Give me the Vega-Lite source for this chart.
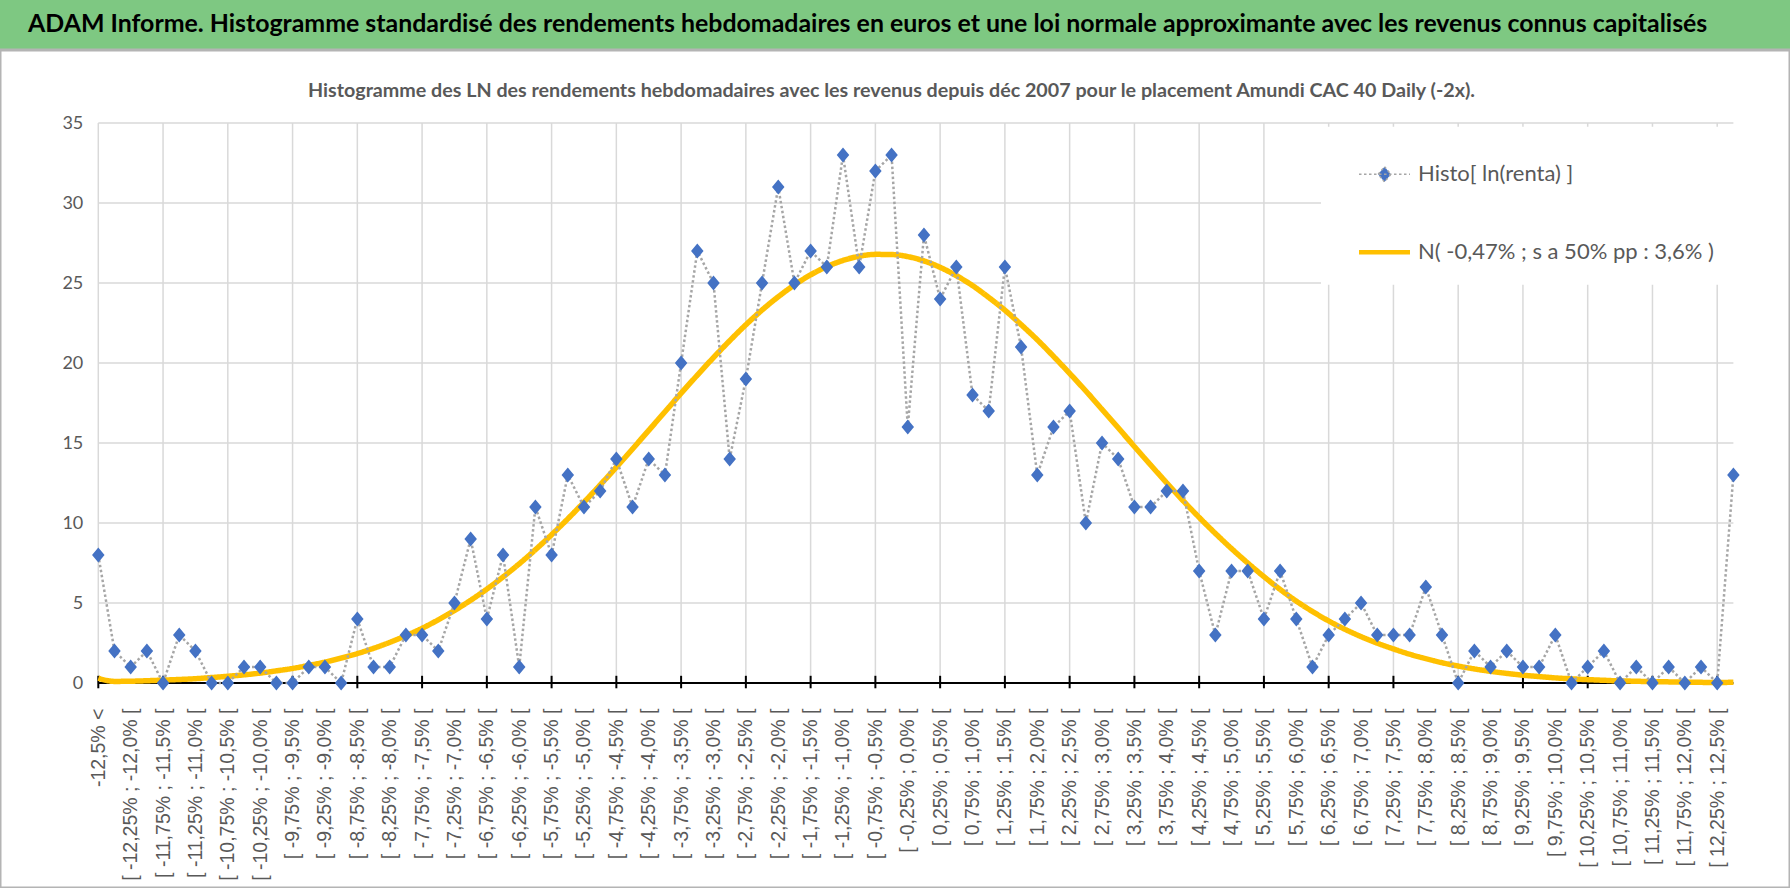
{
  "$schema": "https://vega.github.io/schema/vega-lite/v6.json",
  "width": 1790,
  "height": 838,
  "autosize": {"type": "none"},
  "padding": {"left": 0, "top": 50, "right": 0, "bottom": 0},
  "background": "#7ec882",
  "title": {
    "text": "ADAM Informe. Histogramme standardisé des rendements hebdomadaires en euros et une loi normale approximante avec les revenus connus capitalisés",
    "anchor": "start",
    "frame": "group",
    "dx": 28,
    "dy": 22,
    "offset": 15,
    "baseline": "alphabetic",
    "font": "Lato",
    "fontSize": 24.9,
    "fontWeight": "bold",
    "color": "#000000"
  },
  "config": {
    "view": {"fill": "white", "stroke": "#b4b4b4", "strokeWidth": 3}
  },
  "data": {
    "values": [
      {"k": 1, "label": "-12,5% <", "count": 8, "normal": 0.3},
      {"k": 2, "label": "[ -12,5% ; -12,25% [", "count": 2, "normal": 0.1},
      {"k": 3, "label": "[ -12,25% ; -12,0% [", "count": 1, "normal": 0.11},
      {"k": 4, "label": "[ -12,0% ; -11,75% [", "count": 2, "normal": 0.14},
      {"k": 5, "label": "[ -11,75% ; -11,5% [", "count": 0, "normal": 0.18},
      {"k": 6, "label": "[ -11,5% ; -11,25% [", "count": 3, "normal": 0.22},
      {"k": 7, "label": "[ -11,25% ; -11,0% [", "count": 2, "normal": 0.27},
      {"k": 8, "label": "[ -11,0% ; -10,75% [", "count": 0, "normal": 0.34},
      {"k": 9, "label": "[ -10,75% ; -10,5% [", "count": 0, "normal": 0.42},
      {"k": 10, "label": "[ -10,5% ; -10,25% [", "count": 1, "normal": 0.51},
      {"k": 11, "label": "[ -10,25% ; -10,0% [", "count": 1, "normal": 0.62},
      {"k": 12, "label": "[ -10,0% ; -9,75% [", "count": 0, "normal": 0.76},
      {"k": 13, "label": "[ -9,75% ; -9,5% [", "count": 0, "normal": 0.91},
      {"k": 14, "label": "[ -9,5% ; -9,25% [", "count": 1, "normal": 1.1},
      {"k": 15, "label": "[ -9,25% ; -9,0% [", "count": 1, "normal": 1.31},
      {"k": 16, "label": "[ -9,0% ; -8,75% [", "count": 0, "normal": 1.56},
      {"k": 17, "label": "[ -8,75% ; -8,5% [", "count": 4, "normal": 1.84},
      {"k": 18, "label": "[ -8,5% ; -8,25% [", "count": 1, "normal": 2.17},
      {"k": 19, "label": "[ -8,25% ; -8,0% [", "count": 1, "normal": 2.54},
      {"k": 20, "label": "[ -8,0% ; -7,75% [", "count": 3, "normal": 2.96},
      {"k": 21, "label": "[ -7,75% ; -7,5% [", "count": 3, "normal": 3.42},
      {"k": 22, "label": "[ -7,5% ; -7,25% [", "count": 2, "normal": 3.95},
      {"k": 23, "label": "[ -7,25% ; -7,0% [", "count": 5, "normal": 4.53},
      {"k": 24, "label": "[ -7,0% ; -6,75% [", "count": 9, "normal": 5.17},
      {"k": 25, "label": "[ -6,75% ; -6,5% [", "count": 4, "normal": 5.87},
      {"k": 26, "label": "[ -6,5% ; -6,25% [", "count": 8, "normal": 6.63},
      {"k": 27, "label": "[ -6,25% ; -6,0% [", "count": 1, "normal": 7.45},
      {"k": 28, "label": "[ -6,0% ; -5,75% [", "count": 11, "normal": 8.33},
      {"k": 29, "label": "[ -5,75% ; -5,5% [", "count": 8, "normal": 9.27},
      {"k": 30, "label": "[ -5,5% ; -5,25% [", "count": 13, "normal": 10.26},
      {"k": 31, "label": "[ -5,25% ; -5,0% [", "count": 11, "normal": 11.3},
      {"k": 32, "label": "[ -5,0% ; -4,75% [", "count": 12, "normal": 12.38},
      {"k": 33, "label": "[ -4,75% ; -4,5% [", "count": 14, "normal": 13.49},
      {"k": 34, "label": "[ -4,5% ; -4,25% [", "count": 11, "normal": 14.63},
      {"k": 35, "label": "[ -4,25% ; -4,0% [", "count": 14, "normal": 15.79},
      {"k": 36, "label": "[ -4,0% ; -3,75% [", "count": 13, "normal": 16.95},
      {"k": 37, "label": "[ -3,75% ; -3,5% [", "count": 20, "normal": 18.11},
      {"k": 38, "label": "[ -3,5% ; -3,25% [", "count": 27, "normal": 19.24},
      {"k": 39, "label": "[ -3,25% ; -3,0% [", "count": 25, "normal": 20.34},
      {"k": 40, "label": "[ -3,0% ; -2,75% [", "count": 14, "normal": 21.39},
      {"k": 41, "label": "[ -2,75% ; -2,5% [", "count": 19, "normal": 22.39},
      {"k": 42, "label": "[ -2,5% ; -2,25% [", "count": 25, "normal": 23.31},
      {"k": 43, "label": "[ -2,25% ; -2,0% [", "count": 31, "normal": 24.14},
      {"k": 44, "label": "[ -2,0% ; -1,75% [", "count": 25, "normal": 24.88},
      {"k": 45, "label": "[ -1,75% ; -1,5% [", "count": 27, "normal": 25.51},
      {"k": 46, "label": "[ -1,5% ; -1,25% [", "count": 26, "normal": 26.02},
      {"k": 47, "label": "[ -1,25% ; -1,0% [", "count": 33, "normal": 26.41},
      {"k": 48, "label": "[ -1,0% ; -0,75% [", "count": 26, "normal": 26.67},
      {"k": 49, "label": "[ -0,75% ; -0,5% [", "count": 32, "normal": 26.79},
      {"k": 50, "label": "[ -0,5% ; -0,25% [", "count": 33, "normal": 26.78},
      {"k": 51, "label": "[ -0,25% ; 0,0% [", "count": 16, "normal": 26.65},
      {"k": 52, "label": "[ 0,0% ; 0,25% [", "count": 28, "normal": 26.38},
      {"k": 53, "label": "[ 0,25% ; 0,5% [", "count": 24, "normal": 25.98},
      {"k": 54, "label": "[ 0,5% ; 0,75% [", "count": 26, "normal": 25.46},
      {"k": 55, "label": "[ 0,75% ; 1,0% [", "count": 18, "normal": 24.84},
      {"k": 56, "label": "[ 1,0% ; 1,25% [", "count": 17, "normal": 24.1},
      {"k": 57, "label": "[ 1,25% ; 1,5% [", "count": 26, "normal": 23.3},
      {"k": 58, "label": "[ 1,5% ; 1,75% [", "count": 21, "normal": 22.4},
      {"k": 59, "label": "[ 1,75% ; 2,0% [", "count": 13, "normal": 21.45},
      {"k": 60, "label": "[ 2,0% ; 2,25% [", "count": 16, "normal": 20.42},
      {"k": 61, "label": "[ 2,25% ; 2,5% [", "count": 17, "normal": 19.35},
      {"k": 62, "label": "[ 2,5% ; 2,75% [", "count": 10, "normal": 18.25},
      {"k": 63, "label": "[ 2,75% ; 3,0% [", "count": 15, "normal": 17.1},
      {"k": 64, "label": "[ 3,0% ; 3,25% [", "count": 14, "normal": 15.95},
      {"k": 65, "label": "[ 3,25% ; 3,5% [", "count": 11, "normal": 14.78},
      {"k": 66, "label": "[ 3,5% ; 3,75% [", "count": 11, "normal": 13.63},
      {"k": 67, "label": "[ 3,75% ; 4,0% [", "count": 12, "normal": 12.5},
      {"k": 68, "label": "[ 4,0% ; 4,25% [", "count": 12, "normal": 11.4},
      {"k": 69, "label": "[ 4,25% ; 4,5% [", "count": 7, "normal": 10.35},
      {"k": 70, "label": "[ 4,5% ; 4,75% [", "count": 3, "normal": 9.35},
      {"k": 71, "label": "[ 4,75% ; 5,0% [", "count": 7, "normal": 8.4},
      {"k": 72, "label": "[ 5,0% ; 5,25% [", "count": 7, "normal": 7.5},
      {"k": 73, "label": "[ 5,25% ; 5,5% [", "count": 4, "normal": 6.65},
      {"k": 74, "label": "[ 5,5% ; 5,75% [", "count": 7, "normal": 5.85},
      {"k": 75, "label": "[ 5,75% ; 6,0% [", "count": 4, "normal": 5.12},
      {"k": 76, "label": "[ 6,0% ; 6,25% [", "count": 1, "normal": 4.47},
      {"k": 77, "label": "[ 6,25% ; 6,5% [", "count": 3, "normal": 3.88},
      {"k": 78, "label": "[ 6,5% ; 6,75% [", "count": 4, "normal": 3.36},
      {"k": 79, "label": "[ 6,75% ; 7,0% [", "count": 5, "normal": 2.9},
      {"k": 80, "label": "[ 7,0% ; 7,25% [", "count": 3, "normal": 2.49},
      {"k": 81, "label": "[ 7,25% ; 7,5% [", "count": 3, "normal": 2.13},
      {"k": 82, "label": "[ 7,5% ; 7,75% [", "count": 3, "normal": 1.8},
      {"k": 83, "label": "[ 7,75% ; 8,0% [", "count": 6, "normal": 1.52},
      {"k": 84, "label": "[ 8,0% ; 8,25% [", "count": 3, "normal": 1.27},
      {"k": 85, "label": "[ 8,25% ; 8,5% [", "count": 0, "normal": 1.06},
      {"k": 86, "label": "[ 8,5% ; 8,75% [", "count": 2, "normal": 0.88},
      {"k": 87, "label": "[ 8,75% ; 9,0% [", "count": 1, "normal": 0.73},
      {"k": 88, "label": "[ 9,0% ; 9,25% [", "count": 2, "normal": 0.6},
      {"k": 89, "label": "[ 9,25% ; 9,5% [", "count": 1, "normal": 0.49},
      {"k": 90, "label": "[ 9,5% ; 9,75% [", "count": 1, "normal": 0.4},
      {"k": 91, "label": "[ 9,75% ; 10,0% [", "count": 3, "normal": 0.32},
      {"k": 92, "label": "[ 10,0% ; 10,25% [", "count": 0, "normal": 0.26},
      {"k": 93, "label": "[ 10,25% ; 10,5% [", "count": 1, "normal": 0.21},
      {"k": 94, "label": "[ 10,5% ; 10,75% [", "count": 2, "normal": 0.17},
      {"k": 95, "label": "[ 10,75% ; 11,0% [", "count": 0, "normal": 0.13},
      {"k": 96, "label": "[ 11,0% ; 11,25% [", "count": 1, "normal": 0.11},
      {"k": 97, "label": "[ 11,25% ; 11,5% [", "count": 0, "normal": 0.08},
      {"k": 98, "label": "[ 11,5% ; 11,75% [", "count": 1, "normal": 0.07},
      {"k": 99, "label": "[ 11,75% ; 12,0% [", "count": 0, "normal": 0.05},
      {"k": 100, "label": "[ 12,0% ; 12,25% [", "count": 1, "normal": 0.04},
      {"k": 101, "label": "[ 12,25% ; 12,5% [", "count": 0, "normal": 0.03},
      {"k": 102, "label": "> 12,5%", "count": 13, "normal": 0.05}
    ]
  },
  "layer": [
    {
      "data": {"values": [{"v": 5}, {"v": 10}, {"v": 15}, {"v": 20}, {"v": 25}, {"v": 30}, {"v": 35}]},
      "mark": {"type": "rule", "color": "#d9d9d9", "strokeWidth": 1.5},
      "encoding": {
        "x": {"datum": "-12,5% <", "type": "nominal"},
        "x2": {"datum": "> 12,5%"},
        "y": {"field": "v", "type": "quantitative"}
      }
    },
    {
      "transform": [{"filter": "datum.k % 4 == 1"}],
      "mark": {"type": "rule", "color": "#d9d9d9", "strokeWidth": 1.5},
      "encoding": {
        "x": {"field": "label", "type": "nominal"},
        "y": {"datum": 0, "type": "quantitative"},
        "y2": {"datum": 35}
      }
    },
    {
      "data": {"values": [{"v": 0}]},
      "mark": {"type": "rule", "color": "#000000", "strokeWidth": 2},
      "encoding": {
        "x": {"datum": "-12,5% <", "type": "nominal"},
        "x2": {"datum": "> 12,5%"},
        "y": {"field": "v", "type": "quantitative"}
      }
    },
    {
      "transform": [{"filter": "datum.k % 4 == 1"}],
      "mark": {"type": "rule", "color": "#000000", "strokeWidth": 2},
      "encoding": {
        "x": {"field": "label", "type": "nominal"},
        "y": {"datum": 0.45, "type": "quantitative"},
        "y2": {"datum": -0.33}
      }
    },
    {
      "mark": {"type": "line", "interpolate": "monotone"},
      "encoding": {
        "x": {
          "field": "label",
          "type": "nominal",
          "scale": {
            "type": "point",
            "range": [98.3, 1733.4],
            "padding": 0,
            "domain": [
              "-12,5% <", "[ -12,5% ; -12,25% [", "[ -12,25% ; -12,0% [", "[ -12,0% ; -11,75% [", "[ -11,75% ; -11,5% [", "[ -11,5% ; -11,25% [",
              "[ -11,25% ; -11,0% [", "[ -11,0% ; -10,75% [", "[ -10,75% ; -10,5% [", "[ -10,5% ; -10,25% [", "[ -10,25% ; -10,0% [", "[ -10,0% ; -9,75% [",
              "[ -9,75% ; -9,5% [", "[ -9,5% ; -9,25% [", "[ -9,25% ; -9,0% [", "[ -9,0% ; -8,75% [", "[ -8,75% ; -8,5% [", "[ -8,5% ; -8,25% [",
              "[ -8,25% ; -8,0% [", "[ -8,0% ; -7,75% [", "[ -7,75% ; -7,5% [", "[ -7,5% ; -7,25% [", "[ -7,25% ; -7,0% [", "[ -7,0% ; -6,75% [",
              "[ -6,75% ; -6,5% [", "[ -6,5% ; -6,25% [", "[ -6,25% ; -6,0% [", "[ -6,0% ; -5,75% [", "[ -5,75% ; -5,5% [", "[ -5,5% ; -5,25% [",
              "[ -5,25% ; -5,0% [", "[ -5,0% ; -4,75% [", "[ -4,75% ; -4,5% [", "[ -4,5% ; -4,25% [", "[ -4,25% ; -4,0% [", "[ -4,0% ; -3,75% [",
              "[ -3,75% ; -3,5% [", "[ -3,5% ; -3,25% [", "[ -3,25% ; -3,0% [", "[ -3,0% ; -2,75% [", "[ -2,75% ; -2,5% [", "[ -2,5% ; -2,25% [",
              "[ -2,25% ; -2,0% [", "[ -2,0% ; -1,75% [", "[ -1,75% ; -1,5% [", "[ -1,5% ; -1,25% [", "[ -1,25% ; -1,0% [", "[ -1,0% ; -0,75% [",
              "[ -0,75% ; -0,5% [", "[ -0,5% ; -0,25% [", "[ -0,25% ; 0,0% [", "[ 0,0% ; 0,25% [", "[ 0,25% ; 0,5% [", "[ 0,5% ; 0,75% [",
              "[ 0,75% ; 1,0% [", "[ 1,0% ; 1,25% [", "[ 1,25% ; 1,5% [", "[ 1,5% ; 1,75% [", "[ 1,75% ; 2,0% [", "[ 2,0% ; 2,25% [",
              "[ 2,25% ; 2,5% [", "[ 2,5% ; 2,75% [", "[ 2,75% ; 3,0% [", "[ 3,0% ; 3,25% [", "[ 3,25% ; 3,5% [", "[ 3,5% ; 3,75% [",
              "[ 3,75% ; 4,0% [", "[ 4,0% ; 4,25% [", "[ 4,25% ; 4,5% [", "[ 4,5% ; 4,75% [", "[ 4,75% ; 5,0% [", "[ 5,0% ; 5,25% [",
              "[ 5,25% ; 5,5% [", "[ 5,5% ; 5,75% [", "[ 5,75% ; 6,0% [", "[ 6,0% ; 6,25% [", "[ 6,25% ; 6,5% [", "[ 6,5% ; 6,75% [",
              "[ 6,75% ; 7,0% [", "[ 7,0% ; 7,25% [", "[ 7,25% ; 7,5% [", "[ 7,5% ; 7,75% [", "[ 7,75% ; 8,0% [", "[ 8,0% ; 8,25% [",
              "[ 8,25% ; 8,5% [", "[ 8,5% ; 8,75% [", "[ 8,75% ; 9,0% [", "[ 9,0% ; 9,25% [", "[ 9,25% ; 9,5% [", "[ 9,5% ; 9,75% [",
              "[ 9,75% ; 10,0% [", "[ 10,0% ; 10,25% [", "[ 10,25% ; 10,5% [", "[ 10,5% ; 10,75% [", "[ 10,75% ; 11,0% [", "[ 11,0% ; 11,25% [",
              "[ 11,25% ; 11,5% [", "[ 11,5% ; 11,75% [", "[ 11,75% ; 12,0% [", "[ 12,0% ; 12,25% [", "[ 12,25% ; 12,5% [", "> 12,5%"
            ]
          },
          "axis": {
            "orient": "bottom",
            "offset": -205,
            "values": [
              "-12,5% <", "[ -12,25% ; -12,0% [", "[ -11,75% ; -11,5% [", "[ -11,25% ; -11,0% [", "[ -10,75% ; -10,5% [", "[ -10,25% ; -10,0% [",
              "[ -9,75% ; -9,5% [", "[ -9,25% ; -9,0% [", "[ -8,75% ; -8,5% [", "[ -8,25% ; -8,0% [", "[ -7,75% ; -7,5% [", "[ -7,25% ; -7,0% [",
              "[ -6,75% ; -6,5% [", "[ -6,25% ; -6,0% [", "[ -5,75% ; -5,5% [", "[ -5,25% ; -5,0% [", "[ -4,75% ; -4,5% [", "[ -4,25% ; -4,0% [",
              "[ -3,75% ; -3,5% [", "[ -3,25% ; -3,0% [", "[ -2,75% ; -2,5% [", "[ -2,25% ; -2,0% [", "[ -1,75% ; -1,5% [", "[ -1,25% ; -1,0% [",
              "[ -0,75% ; -0,5% [", "[ -0,25% ; 0,0% [", "[ 0,25% ; 0,5% [", "[ 0,75% ; 1,0% [", "[ 1,25% ; 1,5% [", "[ 1,75% ; 2,0% [",
              "[ 2,25% ; 2,5% [", "[ 2,75% ; 3,0% [", "[ 3,25% ; 3,5% [", "[ 3,75% ; 4,0% [", "[ 4,25% ; 4,5% [", "[ 4,75% ; 5,0% [",
              "[ 5,25% ; 5,5% [", "[ 5,75% ; 6,0% [", "[ 6,25% ; 6,5% [", "[ 6,75% ; 7,0% [", "[ 7,25% ; 7,5% [", "[ 7,75% ; 8,0% [",
              "[ 8,25% ; 8,5% [", "[ 8,75% ; 9,0% [", "[ 9,25% ; 9,5% [", "[ 9,75% ; 10,0% [", "[ 10,25% ; 10,5% [", "[ 10,75% ; 11,0% [",
              "[ 11,25% ; 11,5% [", "[ 11,75% ; 12,0% [", "[ 12,25% ; 12,5% ["
            ],
            "labelAngle": -90,
            "labelFont": "Liberation Sans",
            "labelFontSize": 19.5,
            "labelColor": "#595959",
            "labelPadding": 25,
            "labelLimit": 300,
            "labelOverlap": false,
            "labelFlush": false,
            "domain": false,
            "ticks": false,
            "grid": false,
            "title": null
          }
        },
        "y": {
          "field": "normal",
          "type": "quantitative",
          "scale": {"domain": [-12.8125, 39.5625], "nice": false, "zero": false},
          "axis": {
            "orient": "left",
            "offset": -98.3,
            "values": [0, 5, 10, 15, 20, 25, 30, 35],
            "labelFont": "Lato",
            "labelFontSize": 18,
            "labelColor": "#595959",
            "labelPadding": 15.5,
            "domain": false,
            "ticks": false,
            "grid": false,
            "title": null
          }
        },
        "color": {
          "datum": "N( -0,47% ; s a 50% pp : 3,6% )",
          "type": "nominal",
          "scale": {
            "domain": ["Histo[ ln(renta) ]", "N( -0,47% ; s a 50% pp : 3,6% )"],
            "range": ["#a6a6a6", "#FFC000"]
          },
          "legend": {
            "orient": "none",
            "legendX": 1321,
            "legendY": 76.8,
            "title": null,
            "fillColor": "white",
            "padding": 21,
            "symbolOffset": 16,
            "rowPadding": 40,
            "labelOffset": 7,
            "symbolSize": 2601,
            "symbolFillColor": "#4472C4",
            "labelFont": "Lato",
            "labelFontSize": 22,
            "labelColor": "#595959",
            "labelLimit": 500,
            "zindex": 1
          }
        },
        "strokeDash": {
          "datum": "N( -0,47% ; s a 50% pp : 3,6% )",
          "type": "nominal",
          "scale": {
            "domain": ["Histo[ ln(renta) ]", "N( -0,47% ; s a 50% pp : 3,6% )"],
            "range": [[2.5, 2.5], [1, 0]]
          }
        },
        "strokeWidth": {
          "datum": "N( -0,47% ; s a 50% pp : 3,6% )",
          "type": "nominal",
          "scale": {
            "type": "ordinal",
            "domain": ["Histo[ ln(renta) ]", "N( -0,47% ; s a 50% pp : 3,6% )"],
            "range": [2.5, 5.5]
          },
          "legend": null
        }
      }
    },
    {
      "mark": {"type": "line"},
      "encoding": {
        "x": {"field": "label", "type": "nominal"},
        "y": {"field": "count", "type": "quantitative"},
        "color": {"datum": "Histo[ ln(renta) ]", "type": "nominal"},
        "strokeDash": {"datum": "Histo[ ln(renta) ]", "type": "nominal"},
        "strokeWidth": {"datum": "Histo[ ln(renta) ]", "type": "nominal", "legend": null}
      }
    },
    {
      "mark": {"type": "point", "filled": true, "color": "#4472C4", "size": 2500, "opacity": 1, "strokeWidth": 0},
      "encoding": {
        "x": {"field": "label", "type": "nominal"},
        "y": {"field": "count", "type": "quantitative"},
        "shape": {
          "datum": "Histo[ ln(renta) ]",
          "type": "nominal",
          "scale": {
            "domain": ["Histo[ ln(renta) ]", "N( -0,47% ; s a 50% pp : 3,6% )"],
            "range": [
              "M-1,0L1,0M0,-0.3L0.25,0L0,0.3L-0.25,0Z",
              "M-1,-0.06L1,-0.06M-1,-0.02L1,-0.02M-1,0.02L1,0.02M-1,0.06L1,0.06"
            ]
          }
        }
      }
    },
    {
      "data": {"values": [{"t": "Histogramme des LN des rendements hebdomadaires avec les revenus depuis déc 2007 pour le placement Amundi CAC 40 Daily (-2x)."}]},
      "mark": {"type": "text", "font": "Lato", "fontSize": 19.7, "fontWeight": "bold", "color": "#595959", "align": "center", "baseline": "alphabetic"},
      "encoding": {
        "text": {"field": "t"},
        "x": {"datum": "[ -0,5% ; -0,25% [", "type": "nominal"},
        "y": {"datum": 36.64, "type": "quantitative"}
      }
    }
  ]
}
